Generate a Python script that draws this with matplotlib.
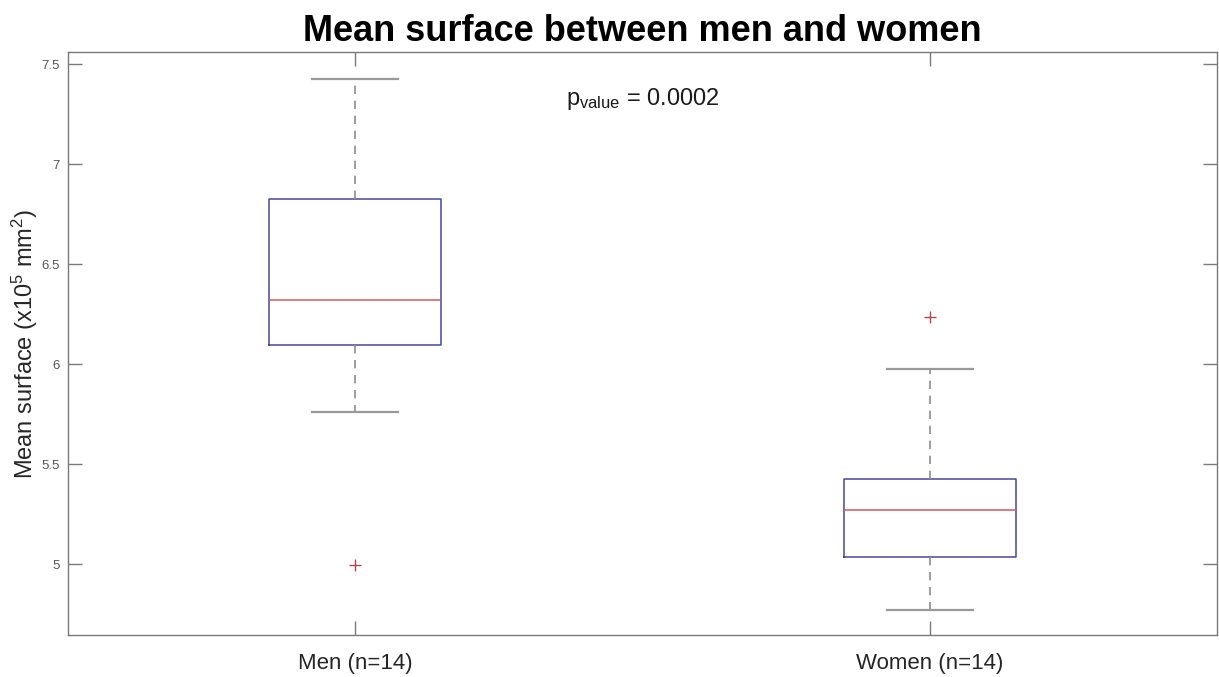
import matplotlib
matplotlib.use("Agg")
import matplotlib.pyplot as plt

plt.rcParams['font.family'] = ['Liberation Sans', 'DejaVu Sans']

# Box statistics for each group (surface in x10^5 mm^2)
groups = ["Men (n=14)", "Women (n=14)"]
whisker_low = [5.763, 4.773]
quartile1 = [6.097, 5.038]
medians = [6.322, 5.273]
quartile3 = [6.825, 5.427]
whisker_high = [7.425, 5.978]
outliers = [[4.995], [6.238]]
p_value = "0.0002"

stats = []
for i, name in enumerate(groups):
    stats.append(dict(label=name, whislo=whisker_low[i], q1=quartile1[i],
                      med=medians[i], q3=quartile3[i],
                      whishi=whisker_high[i], fliers=outliers[i]))

fig = plt.figure(figsize=(12.19, 6.77), dpi=100)
ax = fig.add_axes([68 / 1219, 1 - 635 / 677, (1217 - 68) / 1219, (635 - 52) / 677])

ax.bxp(stats, positions=[1, 2], widths=0.3, showfliers=True,
       boxprops=dict(color='#4646a0', linewidth=1.1),
       medianprops=dict(color='#d05a5a', linewidth=1.1),
       whiskerprops=dict(color='#8c8c8c', linewidth=1.2, linestyle=(0, (5, 4))),
       capprops=dict(color='#999999', linewidth=1.6),
       capwidths=0.15,
       flierprops=dict(marker='+', markeredgecolor='#b04848', markersize=8,
                       markeredgewidth=1.0, linestyle='none'))

ax.set_xlim(0.5, 2.5)
ax.set_ylim(4.6465, 7.56)
ax.set_yticks([5, 5.5, 6, 6.5, 7, 7.5])
ax.set_yticklabels(['5', '5.5', '6', '6.5', '7', '7.5'])
ax.set_xticks([1, 2])
ax.set_xticklabels(groups)

spine_color = '#7a7a7a'
for s in ax.spines.values():
    s.set_color(spine_color)
    s.set_linewidth(1.0)

ax.tick_params(axis='both', direction='in', length=10, width=1.0,
               color=spine_color, top=True, right=True)
ax.tick_params(axis='y', labelsize=9.5, labelcolor='#555555', pad=6)
ax.tick_params(axis='x', labelsize=16, labelcolor='#262626', pad=13)

ax.set_ylabel(r'Mean surface (x10$\mathregular{^5}$ mm$\mathregular{^2}$)',
              fontsize=17, color='#262626')
ax.yaxis.set_label_coords(-(68 - 40) / 1149, 0.5)
ax.set_title('Mean surface between men and women', fontsize=26,
             fontweight='bold', color='black', pad=8)

ax.text(1.5, 7.297, r'$\mathregular{p_{value}}$ = ' + p_value, ha='center',
        va='baseline', fontsize=17, color='#1a1a1a')

fig.savefig('out.png', dpi=100, facecolor='white')
